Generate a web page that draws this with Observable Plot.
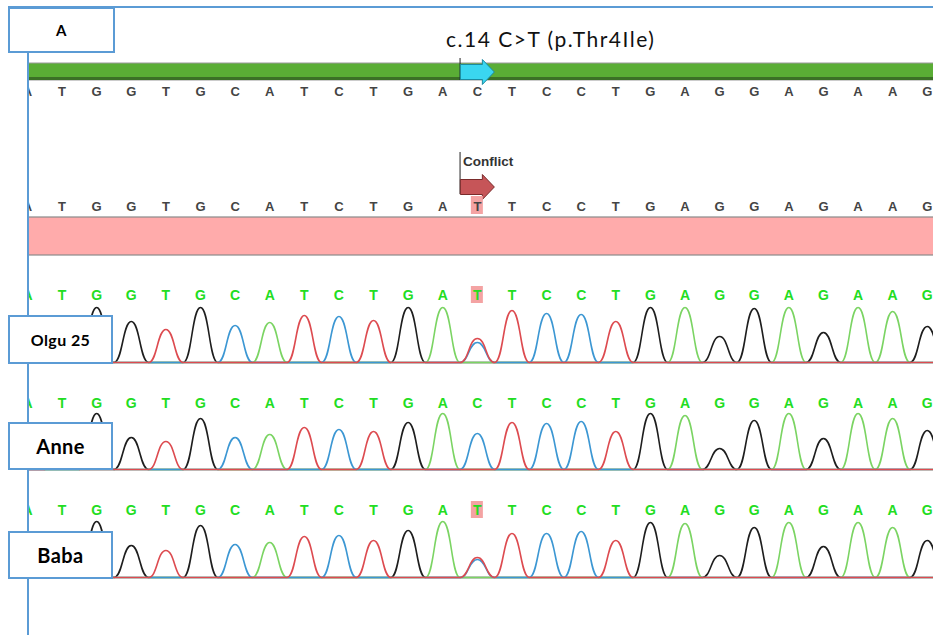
<!DOCTYPE html>
<html><head><meta charset="utf-8">
<script src="https://cdn.jsdelivr.net/npm/d3@7"></script>
<script src="https://cdn.jsdelivr.net/npm/@observablehq/plot@0.6"></script>
<style>
body{margin:0;background:#fff;}
#root{position:relative;width:933px;height:635px;overflow:hidden;background:#fff;font-family:"Liberation Sans",Arial,sans-serif;}
.track{position:absolute;left:28px;width:905px;overflow:hidden;}
.track svg{display:block;}
.box{position:absolute;box-sizing:border-box;border:2px solid #5b9bd5;background:#fff;display:flex;align-items:center;justify-content:center;font-family:Lato,"Open Sans",sans-serif;font-weight:700;color:#000;letter-spacing:0.4px;}
.line{position:absolute;background:#5b9bd5;}
.title{position:absolute;left:446px;top:28px;font-family:Lato,"Open Sans",sans-serif;font-size:21px;line-height:21px;letter-spacing:1.5px;color:#111;white-space:nowrap;}
</style></head><body><div id="root"></div>
<script>
// ---- data ----
const refSeq = "ATGGTGCATCTGACTCCTGAGGAGAAG".split("");
const consensusSeq = "ATGGTGCATCTGATTCCTGAGGAGAAG".split("");
const mutationIndex = 13;
const titleText = "c.14 C>T (p.Thr4Ile)";
const featureLabel = "Conflict";
const panelLabel = "A";
const traceNames = ["Olgu 25", "Anne", "Baba"];

const olguCalls = "ATGGTGCATCTGATTCCTGAGGAGAAG".split("");
const olguHeights = [30, 35, 55, 41, 33, 55, 37, 40, 47, 46, 42, 55, 55, 24, 52, 49, 48, 41, 55, 55, 26, 54, 55, 30, 55, 51, 36];
const olguSecondary = [{i: 13, base: "C", h: 20}];

const anneCalls = "ATGGTGCATCTGACTCCTGAGGAGAAG".split("");
const anneHeights = [30, 35, 56, 32, 28, 51, 32, 35, 42, 40, 38, 47, 56, 36, 47, 46, 48, 38, 56, 54, 21, 49, 56, 31, 56, 51, 39];
const anneSecondary = [];

const babaCalls = "ATGGTGCATCTGATTCCTGAGGAGAAG".split("");
const babaHeights = [30, 35, 56, 32, 27, 52, 33, 35, 41, 42, 37, 47, 56, 20, 44, 44, 46, 37, 55, 54, 22, 50, 55, 31, 55, 50, 37];
const babaSecondary = [{i: 13, base: "C", h: 18}];

const channels = ["G", "A", "C", "T"];
const channelColors = ["#1e1e1e", "#7bd463", "#3c97d3", "#dd4b50"];

// ---- helpers ----
const xDomain = [0.03, 26.18];
const W = 905;
const root = document.getElementById("root");

function addTrack(top, plot) {
  const d = document.createElement("div");
  d.className = "track";
  d.style.top = top + "px";
  d.appendChild(plot);
  root.appendChild(d);
}
function basePlot(height, opts) {
  return Object.assign({
    width: W, height, marginLeft: 0, marginRight: 0, marginTop: 0, marginBottom: 0,
    x: {domain: xDomain, axis: null},
    style: {background: "transparent", overflow: "hidden"}
  }, opts);
}
const blockArrow = {draw(ctx, size) {
  const s = Math.sqrt(size / Math.PI) / 17;
  ctx.moveTo(-17 * s, -7.5 * s); ctx.lineTo(5 * s, -7.5 * s); ctx.lineTo(5 * s, -12.5 * s);
  ctx.lineTo(17 * s, 0); ctx.lineTo(5 * s, 12.5 * s); ctx.lineTo(5 * s, 7.5 * s);
  ctx.lineTo(-17 * s, 7.5 * s); ctx.closePath();
}};
function letterRow(seq, top, height, color, size, dy, highlight) {
  const marks = [];
  if (highlight.length) marks.push(Plot.rect(highlight, {x1: d => d - 0.5, x2: d => d + 0.5, insetLeft: 11.3, insetRight: 11.3, fill: "#f4a3a3"}));
  marks.push(Plot.text(seq, {x: (d, i) => i, text: d => d, fill: color, fontWeight: "bold", fontSize: size, fontFamily: "Liberation Sans, Arial, sans-serif", dy}));
  addTrack(top, Plot.plot(basePlot(height, {marks})));
}
function traceRows(calls, heights, secondary) {
  const rows = [];
  for (const c of channels) {
    rows.push({ch: c, x: -0.5, h: 0});
    calls.forEach((b, i) => {
      let h = b === c ? heights[i] : 0;
      for (const s of secondary) if (s.i === i && s.base === c) h = s.h;
      rows.push({ch: c, x: i, h});
      rows.push({ch: c, x: i + 0.5, h: 0});
    });
  }
  return rows;
}
function traceTrack(top, calls, heights, secondary) {
  const rows = traceRows(calls, heights, secondary);
  addTrack(top, Plot.plot(basePlot(63, {
    marginTop: 4, marginBottom: 3,
    y: {domain: [0, 56], axis: null},
    color: {domain: channels, range: channelColors},
    marks: [Plot.line(rows, {x: "x", y: "h", stroke: "ch", curve: "bump-x", strokeWidth: 1.6})]
  })));
}
const mismatches = consensusSeq.map((b, i) => b !== refSeq[i] ? i : null).filter(i => i !== null);

// ---- reference feature bar ----
addTrack(56, Plot.plot(basePlot(30, {
  marginTop: 7, marginBottom: 6,
  marks: [
    Plot.rect([0], {x1: () => -1, x2: () => 27, fill: "#5aad35", stroke: "#9a9a9a", strokeWidth: 1}),
    Plot.rect([0], {x1: () => -1, x2: () => 27, insetTop: 14, fill: "#3b7026"}),
    Plot.ruleX([mutationIndex - 0.5], {stroke: "#222", strokeWidth: 1, insetTop: -5}),
    Plot.dot([mutationIndex], {x: d => d, symbol: blockArrow, r: 17, fill: "#3ad6f0", stroke: "#1b8aa0", strokeWidth: 1})
  ]
})));
letterRow(refSeq, 82, 19, "#444", 13, 0, []);

// ---- conflict annotation ----
addTrack(145, Plot.plot(basePlot(56, {
  marginTop: 7, marginBottom: 7,
  marks: [
    Plot.ruleX([mutationIndex - 0.5], {stroke: "#222", strokeWidth: 1}),
    Plot.dot([mutationIndex], {x: d => d, symbol: blockArrow, r: 17, fill: "#c65558", stroke: "#7a2b2b", strokeWidth: 1, frameAnchor: "bottom", dy: -7.5}),
    Plot.text([featureLabel], {x: () => mutationIndex - 0.5, text: d => d, textAnchor: "start", dx: 3, frameAnchor: "top", dy: 4, fontWeight: "bold", fontSize: 13.5, fontFamily: "Liberation Sans, Arial, sans-serif", fill: "#333"})
  ]
})));
letterRow(consensusSeq, 196, 18, "#444", 13, 1.5, mismatches);

// ---- consensus pink bar ----
addTrack(216, Plot.plot(basePlot(40, {
  marginTop: 1, marginBottom: 1,
  marks: [Plot.rect([0], {x1: () => -1, x2: () => 27, fill: "#ffabab", stroke: "#8a8a8a", strokeWidth: 1.2})]
})));

// ---- chromatograms ----
const callMism = calls => calls.map((b, i) => b !== refSeq[i] ? i : null).filter(i => i !== null);
letterRow(olguCalls, 286, 17, "#22dd22", 14, 1, callMism(olguCalls));
traceTrack(302, olguCalls, olguHeights, olguSecondary);
letterRow(anneCalls, 394, 18, "#22dd22", 14, 0, callMism(anneCalls));
traceTrack(409, anneCalls, anneHeights, anneSecondary);
letterRow(babaCalls, 501, 17, "#22dd22", 14, 1, callMism(babaCalls));
traceTrack(517, babaCalls, babaHeights, babaSecondary);

// ---- frame lines, labels, title ----
function addDiv(cls, style, text) {
  const d = document.createElement("div");
  d.className = cls;
  Object.assign(d.style, style);
  if (text != null) d.textContent = text;
  root.appendChild(d);
  return d;
}
addDiv("line", {left: "8px", top: "6px", width: "925px", height: "2px"});
addDiv("line", {left: "27px", top: "52px", width: "2px", height: "590px"});
addDiv("box", {left: "8px", top: "7px", width: "107px", height: "46px", fontSize: "15px"}, panelLabel);
addDiv("box", {left: "8px", top: "315px", width: "105px", height: "49px", fontSize: "16px"}, traceNames[0]);
addDiv("box", {left: "8px", top: "422px", width: "105px", height: "48px", fontSize: "20px"}, traceNames[1]);
addDiv("box", {left: "8px", top: "531px", width: "105px", height: "48px", fontSize: "20px"}, traceNames[2]);
addDiv("title", {}, titleText);
</script></body></html>
